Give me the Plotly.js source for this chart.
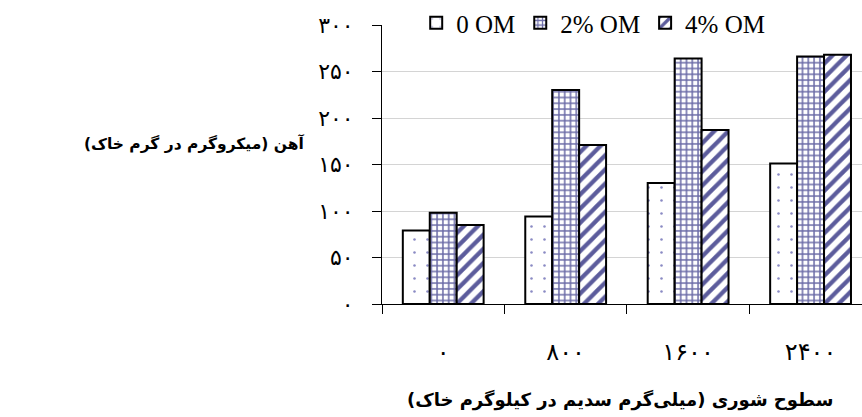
<!DOCTYPE html>
<html>
<head>
<meta charset="utf-8">
<script src="https://cdn.plot.ly/plotly-3.0.1.min.js"></script>
<style>html,body{margin:0;padding:0;background:#fff;overflow:hidden;}#chart{width:862px;height:417px;}</style>
</head>
<body>
<div id="chart"></div>
<script>
const categories = ['۰', '۸۰۰', '۱۶۰۰', '۲۴۰۰'];
const seriesNames = ['0 OM', '2% OM', '4% OM'];
const om0 = [79, 94, 130, 151];
const om2 = [98, 230, 264, 266];
const om4 = [85, 171, 187, 268];
const yTickVals = [0, 50, 100, 150, 200, 250, 300];
const yTickText = ['۰', '۵۰', '۱۰۰', '۱۵۰', '۲۰۰', '۲۵۰', '۳۰۰'];
const xTitle = 'سطوح شوری (میلی‌گرم سدیم در کیلوگرم خاک)';
const yTitle = 'آهن (میکروگرم در گرم خاک)';

const patternColor = '#6a6aa6';
const outline = {color: '#000', width: 2};

const traces = [
  {type: 'bar', name: seriesNames[0], x: categories, y: om0,
   marker: {color: '#ffffff', line: outline,
     pattern: {shape: '.', fgcolor: '#8a8ac4', bgcolor: '#ffffff', size: 13, solidity: 0.03, fillmode: 'replace'}}},
  {type: 'bar', name: seriesNames[1], x: categories, y: om2,
   marker: {color: '#ffffff', line: outline,
     pattern: {shape: '+', fgcolor: patternColor, bgcolor: '#ffffff', size: 5.8, solidity: 0.45, fillmode: 'replace'}}},
  {type: 'bar', name: seriesNames[2], x: categories, y: om4,
   marker: {color: '#ffffff', line: outline,
     pattern: {shape: '/', fgcolor: '#5c5c9c', bgcolor: '#ffffff', size: 10, solidity: 0.42, fillmode: 'replace'}}}
];

const layout = {
  width: 862, height: 417,
  margin: {l: 382, r: 0, t: 24, b: 113, pad: 0},
  paper_bgcolor: '#ffffff', plot_bgcolor: '#ffffff',
  barmode: 'group', bargap: 0.34, bargroupgap: 0,
  font: {family: 'Liberation Serif, DejaVu Sans, serif', color: '#000'},
  showlegend: true,
  legend: {orientation: 'h', x: 0.44, xanchor: 'center', y: 1.007, yanchor: 'middle',
    bgcolor: '#ffffff', font: {family: 'Liberation Serif, serif', size: 25, color: '#000'},
    traceorder: 'normal'},
  xaxis: {type: 'category', range: [-0.5, 3.42], tickson: 'boundaries',
    ticks: 'outside', ticklen: 9, tickcolor: '#000', tickwidth: 1,
    showline: true, linecolor: '#000', linewidth: 1, showgrid: false, zeroline: false,
    tickfont: {family: 'DejaVu Sans, serif', size: 24, color: '#000'}, ticklabelstandoff: 26,
    fixedrange: true},
  yaxis: {range: [0, 300], tickmode: 'array', tickvals: yTickVals, ticktext: yTickText,
    ticks: 'outside', ticklen: 9, tickcolor: '#000', tickwidth: 1,
    showline: true, linecolor: '#000', linewidth: 1,
    showgrid: true, gridcolor: '#d4d4d4', gridwidth: 1, zeroline: false,
    tickfont: {family: 'DejaVu Sans, serif', size: 22, color: '#000'}, ticklabelstandoff: 14,
    fixedrange: true},
  annotations: [
    {text: '<b>' + yTitle + '</b>', xref: 'paper', yref: 'paper', x: -0.392, y: 0.575,
     xanchor: 'center', yanchor: 'middle', showarrow: false,
     font: {family: 'DejaVu Sans, sans-serif', size: 15.5, color: '#000'}},
    {text: '<b>' + xTitle + '</b>', xref: 'paper', yref: 'paper', x: 0.496, y: -0.345,
     xanchor: 'center', yanchor: 'middle', showarrow: false,
     font: {family: 'DejaVu Sans, sans-serif', size: 18, color: '#000'}}
  ]
};

Plotly.newPlot('chart', traces, layout, {displayModeBar: false, staticPlot: true});
</script>
</body>
</html>
